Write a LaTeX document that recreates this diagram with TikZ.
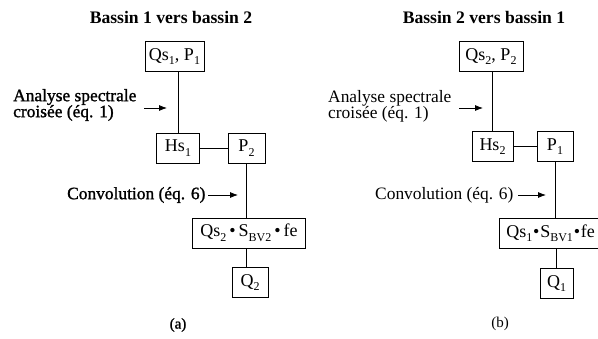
\documentclass[tikz,border=0pt]{standalone}
\usepackage{fontspec}
\setmainfont{Liberation Serif}
\newfontfamily\darkserif[FakeBold=1.3]{Liberation Serif}
\usetikzlibrary{arrows.meta}
\newcommand{\sbs}[1]{\raisebox{-0.25em}{\fontsize{12}{12}\selectfont #1}}
\begin{document}
\begin{tikzpicture}[x=1pt,y=-1pt,
  box/.style={draw, line width=0.8pt, inner ysep=0pt, minimum height=30pt, font=\fontsize{18}{18}\selectfont},
  widebox/.style={box, anchor=west, inner xsep=8pt},
  link/.style={line width=0.8pt},
  note/.style={-{Latex[length=8pt,width=6pt]}, line width=0.8pt},
  ttl/.style={font=\fontsize{17.6}{17.6}\selectfont\bfseries},
  lbl/.style={font=\fontsize{17.4}{16}\selectfont, align=left, inner sep=0pt, anchor=west},
  lblb/.style={lbl, font=\fontsize{17.4}{16}\selectfont\darkserif},
  subcap/.style={font=\fontsize{15}{15}\selectfont},
  subcapb/.style={font=\fontsize{15}{15}\selectfont\darkserif},
]
\useasboundingbox (0,0) rectangle (598,339);
% ---------- (a) ----------
\node[ttl] (t1) at (171,17) {Bassin 1 vers bassin 2};
\node[box, minimum width=59pt] (a1) at (174.5,56.5) {Qs\sbs{1}, P\sbs{1}};
\node[box, minimum width=43pt] (h1) at (178,148) {Hs\sbs{1}};
\node[box, minimum width=37pt] (p2) at (246.5,148) {P\sbs{2}};
\node[widebox] (c1) at (192,233) {Qs\sbs{2}\,•\,S\sbs{BV2}\,•\,fe};
\node[box, minimum width=36pt] (q2) at (250,282.5) {Q\sbs{2}};
\draw[link] (a1.south -| h1) -- (h1.north);
\draw[link] (h1) -- (p2);
\draw[link] (p2.south) -- (p2.south |- c1.north);
\draw[link] (q2.north -| p2) coordinate (q2top) -- (q2top |- c1.south);
\node[lblb] (an1) at (13,105) {Analyse spectrale\\croisée (éq. 1)};
\coordinate (an1s) at (144,108);
\coordinate (an1t) at (167,108);
\draw[note] (an1s) -- (an1t);
\node[lblb] (cv1) at (67,195) {Convolution (éq. 6)};
\coordinate (cv1s) at (208,195);
\coordinate (cv1t) at (238,195);
\draw[note] (cv1s) -- (cv1t);
\node[subcapb] (la) at (178,325) {(a)};
% ---------- (b) ----------
\node[ttl] (t2) at (484,17) {Bassin 2 vers bassin 1};
\node[box, minimum width=64pt] (a2) at (491,56.5) {Qs\sbs{2}, P\sbs{2}};
\node[box, minimum width=41pt] (h2) at (492.5,146.5) {Hs\sbs{2}};
\node[box, minimum width=36pt] (p1) at (555,146.5) {P\sbs{1}};
\node[widebox, inner xsep=7pt] (c2) at (499,233.5) {Qs\sbs{1}\kern0.8pt•\kern0.8pt S\sbs{BV1}\kern0.8pt•\kern0.8pt fe};
\node[box, minimum width=33pt] (q1) at (556.5,283.5) {Q\sbs{1}};
\draw[link] (a2.south -| h2) -- (h2.north);
\draw[link] (h2) -- (p1);
\draw[link] (p1.south) -- (p1.south |- c2.north);
\draw[link] (q1.north) -- (q1.north |- c2.south);
\node[lbl] (an2) at (328,106) {Analyse spectrale\\croisée (éq. 1)};
\coordinate (an2s) at (459,108);
\coordinate (an2t) at (483,108);
\draw[note] (an2s) -- (an2t);
\node[lbl] (cv2) at (375,195) {Convolution (éq. 6)};
\coordinate (cv2s) at (518,195);
\coordinate (cv2t) at (546,195);
\draw[note] (cv2s) -- (cv2t);
\node[subcap] (lb) at (500,324) {(b)};
\end{tikzpicture}
\end{document}
